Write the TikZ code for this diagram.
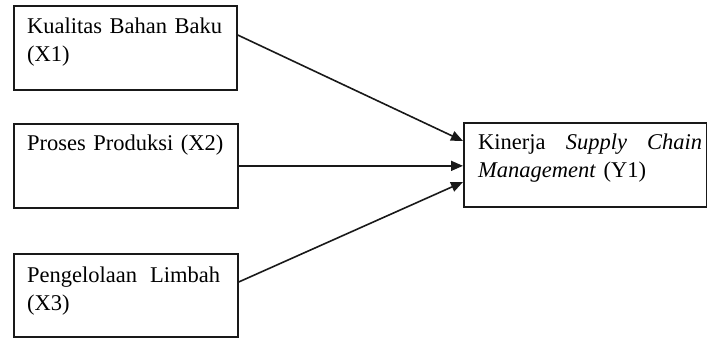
\documentclass[tikz,border=0pt]{standalone}
\usepackage{fontspec}
\setmainfont{Liberation Serif}
\usetikzlibrary{arrows.meta}
\tikzset{
  box/.style={draw=black!90, line width=1.7pt, rectangle, inner sep=0pt, anchor=north west},
  txt/.style={anchor=base west, inner sep=0pt, align=left, text=black,
    font=\fontsize{22.5}{28}\selectfont},
  conn/.style={draw=black!90, line width=1.6pt, -{Triangle[length=12pt,width=10pt]}}
}
\begin{document}
\begin{tikzpicture}[x=1pt,y=-1pt]
\useasboundingbox (0,0) rectangle (707,338);
% boxes
\node[box, minimum width=223pt, minimum height=84pt] (x1) at (13,5) {};
\node[box, minimum width=224pt, minimum height=84pt] (x2) at (13,123) {};
\node[box, minimum width=224pt, minimum height=83pt] (x3) at (13,253) {};
\node[box, minimum width=243pt, minimum height=84pt] (y1) at (463,122) {};
% texts
\node[txt, text width=200pt] (t1) at (27,33) {Kualitas Bahan Baku\\(X1)};
\node[txt, text width=200pt] (t2) at (27,150) {Proses Produksi (X2)};
\node[txt, text width=193pt] (t3) at (27,282) {Pengelolaan\hfill Limbah\\(X3)};
\node[txt, text width=224pt] (ty) at (478,149) {Kinerja\hfill\textit{Supply}\hfill\textit{Chain}\\\textit{Management} (Y1)};
% connectors
\draw[conn] ([yshift=-30pt]x1.north east) -- ([yshift=-19pt]y1.north west);
\draw[conn] (x2.east) -- (x2.east -| y1.west);
\draw[conn] ([yshift=-29pt]x3.north east) -- ([yshift=-60pt]y1.north west);
\end{tikzpicture}
\end{document}
